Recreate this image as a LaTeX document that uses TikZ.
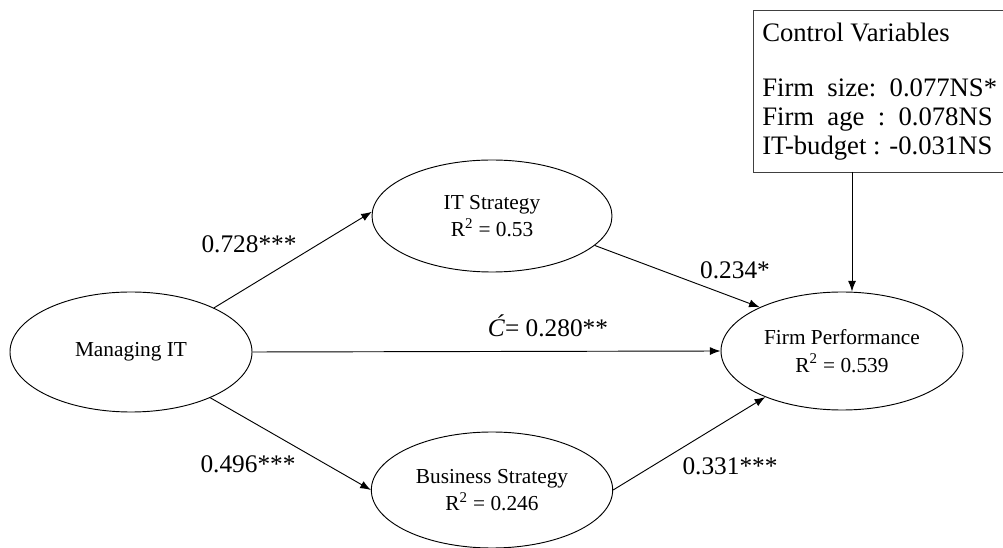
\documentclass[tikz,border=0pt]{standalone}
\usepackage{fontspec}
\setmainfont{Liberation Serif}
\usetikzlibrary{shapes.geometric,arrows.meta}
\tikzset{
  construct/.style={ellipse, draw, line width=0.7pt, inner sep=0pt, align=center,
    font=\fontsize{16}{20.5}\selectfont},
  path coef/.style={font=\fontsize{19}{22}\selectfont},
  cv text/.style={anchor=base west, inner sep=0pt, font=\fontsize{20}{24}\selectfont},
  link/.style={line width=0.7pt, -{Latex[length=8pt,width=6pt]}},
}
\begin{document}
\begin{tikzpicture}[x=0.75pt,y=-0.75pt]
\useasboundingbox (0,0) rectangle (1003,548);
\begin{scope}
\clip (0,0) rectangle (1003,548);
% latent constructs
\node[construct, minimum width=181.5pt, minimum height=90pt] (mit) at (131,352) {Managing IT};
\node[construct, minimum width=180pt, minimum height=84pt] (its) at (492,216) {IT Strategy\\R\textsuperscript{2} = 0.53};
\node[construct, minimum width=181pt, minimum height=87pt] (bs) at (492,490) {Business Strategy\\R\textsuperscript{2} = 0.246};
\node[construct, minimum width=181.5pt, minimum height=88.5pt] (fp) at (842,351) {Firm Performance\\R\textsuperscript{2} = 0.539};
% control variables box (runs past the right edge)
\node[draw=black!75, line width=1.1pt, rectangle, anchor=north west, minimum width=215pt,
  minimum height=121.5pt, inner sep=0pt] (ctrl) at (753,10) {};
\node[cv text] (cvtitle) at (762,42) {Control Variables};
\node[cv text] (cvsize) at (762,97) {Firm\ \ size:\ \ 0.077NS*};
\node[cv text] (cvage) at (762,126) {Firm\ \ age\ \ :\ \ 0.078NS};
\node[cv text] (cvbudget) at (762,155) {IT-budget : -0.031NS};
\coordinate (ctrltap) at (852,172);
\end{scope}
% structural paths
\draw[link] (mit.28) -- (its.178);
\draw[link] (mit.-30) -- (bs.180);
\draw[link] (mit.east) -- (fp.west);
\draw[link] (its.-16) -- (fp.152);
\draw[link] (bs.0) -- (fp.211);
\draw[link] (ctrltap) -- (ctrltap |- fp.north);
% path coefficients
\node[path coef] (c1) at (249,244) {0.728***};
\node[path coef] (c2) at (248,464) {0.496***};
\node[path coef] (c3) at (548,326) {\textit{Ć}= 0.280**};
\node[path coef] (c4) at (735,270) {0.234*};
\node[path coef] (c5) at (730,466) {0.331***};
\end{tikzpicture}
\end{document}
